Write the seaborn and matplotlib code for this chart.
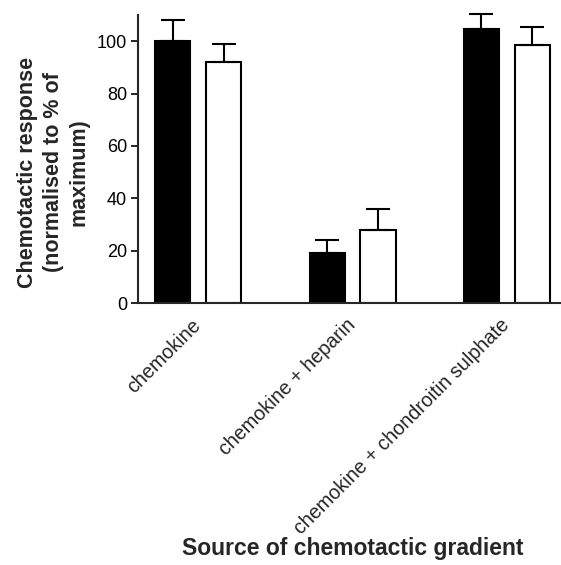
import pandas as pd
import matplotlib
matplotlib.use('Agg')
import matplotlib.pyplot as plt
import matplotlib.transforms as mtransforms
import seaborn as sns

# values
categories = ['chemokine', 'chemokine + heparin', 'chemokine + chondroitin sulphate']
groups = ['filled', 'open']
filled_vals = [100, 19, 104.5]
open_vals = [92, 28, 98.5]
filled_err = [8, 5, 6]
open_err = [7, 8, 7]

df = pd.DataFrame({
    'source': categories * 2,
    'group': [groups[0]] * 3 + [groups[1]] * 3,
    'response': filled_vals + open_vals,
})
errs = filled_err + open_err

sns.set_style('ticks')
plt.rcParams['font.family'] = ['Liberation Sans', 'DejaVu Sans']

fig = plt.figure(figsize=(5.61, 5.65), dpi=100)
ax = fig.add_axes([0.246, 0.4637, 0.754, 0.5097])

sns.barplot(data=df, x='source', y='response', hue='group', order=categories,
            hue_order=groups, palette={'filled': 'black', 'open': 'white'},
            width=0.66, gap=0.31, edgecolor='black', linewidth=1.5,
            errorbar=None, legend=False, ax=ax)

# upper-only error bars placed on the bars seaborn drew
bars = [p for p in ax.patches]
xs = [b.get_x() + b.get_width() / 2 for b in bars]
ys = [b.get_height() for b in bars]
eb = ax.errorbar(xs, ys, yerr=[[0] * len(errs), errs], fmt='none', ecolor='black',
                 elinewidth=1.5, capsize=8.5, capthick=1.5, zorder=1)
for art in eb.lines[1] + eb.lines[2]:
    art.set_clip_on(False)

ax.set_xlim(-0.39, 2.35)
ax.set_ylim(0, 110)
ax.set_yticks([0, 20, 40, 60, 80, 100])
sns.despine(ax=ax)
ax.spines['left'].set_linewidth(1.5)
ax.spines['bottom'].set_linewidth(1.5)
ax.tick_params(axis='y', labelsize=13, width=1.2, length=5, pad=3, colors='black')
ax.tick_params(axis='x', length=0, labelsize=14.2, pad=9)
shift = mtransforms.ScaledTranslation(-7 / 100, 0, fig.dpi_scale_trans)
for lab in ax.get_xticklabels():
    lab.set_rotation(45)
    lab.set_ha('right')
    lab.set_rotation_mode('anchor')
    lab.set_transform(lab.get_transform() + shift)

ax.set_ylabel('Chemotactic response\n(normalised to % of\nmaximum)',
              fontsize=15.5, fontweight='bold', linespacing=1.3)
ax.yaxis.set_label_coords(-0.115, 0.455)
ax.set_xlabel('')
fig.text(0.628, 0.03, 'Source of chemotactic gradient', ha='center', va='center',
         fontsize=16.5, fontweight='bold')

fig.savefig('out.png', dpi=100)
